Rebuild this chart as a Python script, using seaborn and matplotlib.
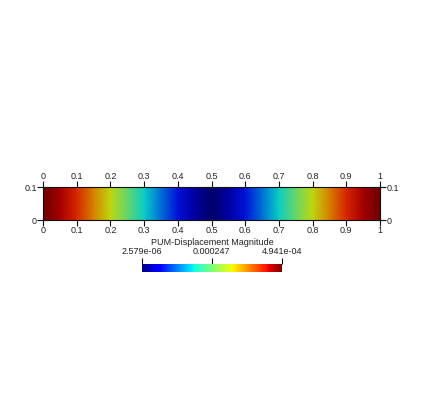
import numpy as np
import seaborn as sns
import matplotlib.pyplot as plt
from matplotlib.colors import ListedColormap, Normalize
from matplotlib.cm import ScalarMappable

# displacement magnitude (constant in y)
x_pos = [0.0, 0.05, 0.1, 0.15, 0.2, 0.25, 0.3, 0.35, 0.4, 0.45, 0.5,
         0.55, 0.6, 0.65, 0.7, 0.75, 0.8, 0.85, 0.9, 0.95, 1.0]
magnitude = [4.941e-4, 4.64e-4, 4.25e-4, 3.71e-4, 3.11e-4, 2.47e-4, 1.83e-4,
             1.28e-4, 0.74e-4, 0.30e-4, 0.026e-4,
             0.30e-4, 0.74e-4, 1.28e-4, 1.83e-4, 2.47e-4, 3.11e-4, 3.71e-4,
             4.25e-4, 4.64e-4, 4.941e-4]
y_pos = [0.0, 0.1]
x_ticks = [0, 0.1, 0.2, 0.3, 0.4, 0.5, 0.6, 0.7, 0.8, 0.9, 1]
x_tick_labels = ['0', '0.1', '0.2', '0.3', '0.4', '0.5', '0.6', '0.7', '0.8', '0.9', '1']
y_ticks = [0, 0.1]
y_tick_labels = ['0', '0.1']
cbar_ticks = [2.579e-06, 0.000247, 4.941e-04]
cbar_tick_labels = ['2.579e-06', '0.000247', '4.941e-04']
cbar_title = 'PUM-Displacement Magnitude'

sns.set_style('white')
plt.rcParams['font.family'] = ['Liberation Sans', 'DejaVu Sans']
text_col = '#222222'
fs = 6.5

fig = plt.figure(figsize=(4.23, 4.08), dpi=100)
W, H = 423, 408

jet = plt.get_cmap('jet')
# surface is lit in the render, so it looks a bit darker than the legend
lit = jet(np.linspace(0, 1, 256))
lit[:, :3] *= 0.84
lit_cmap = ListedColormap(lit)
norm = Normalize(vmin=cbar_ticks[0], vmax=cbar_ticks[-1])

ax = fig.add_axes([43 / W, (H - 220) / H, 337 / W, 33 / H])
X, Y = np.meshgrid(x_pos, y_pos)
Z = np.vstack([magnitude, magnitude])
ax.pcolormesh(X, Y, Z, cmap=lit_cmap, norm=norm, shading='gouraud')
ax.set_xlim(0, 1)
ax.set_ylim(0, 0.1)
ax.set_xticks(x_ticks)
ax.set_xticklabels(x_tick_labels)
ax.set_yticks(y_ticks)
ax.set_yticklabels(y_tick_labels)
ax.tick_params(axis='both', which='both', direction='inout', length=8, width=0.8,
               color='#111111', labelsize=fs, labelcolor=text_col, pad=0.5,
               top=True, bottom=True, left=True, right=True,
               labeltop=True, labelbottom=True, labelleft=True, labelright=True)
for sp in ax.spines.values():
    sp.set_visible(True)
    sp.set_color('#111111')
    sp.set_linewidth(0.8)

cax = fig.add_axes([142 / W, (H - 272) / H, 140 / W, 8 / H])
cb = fig.colorbar(ScalarMappable(norm=norm, cmap=jet), cax=cax,
                  orientation='horizontal', ticks=cbar_ticks)
cb.outline.set_visible(False)
cax.xaxis.set_ticks_position('top')
cax.xaxis.set_label_position('top')
cax.set_xticklabels(cbar_tick_labels)
cax.tick_params(axis='x', direction='out', length=4, width=0.8, color='#111111',
                labelsize=fs, labelcolor=text_col, pad=2)
cax.set_xlabel(cbar_title, fontsize=fs, color=text_col, labelpad=1.5)

fig.savefig('out.png', dpi=100, facecolor='white')
